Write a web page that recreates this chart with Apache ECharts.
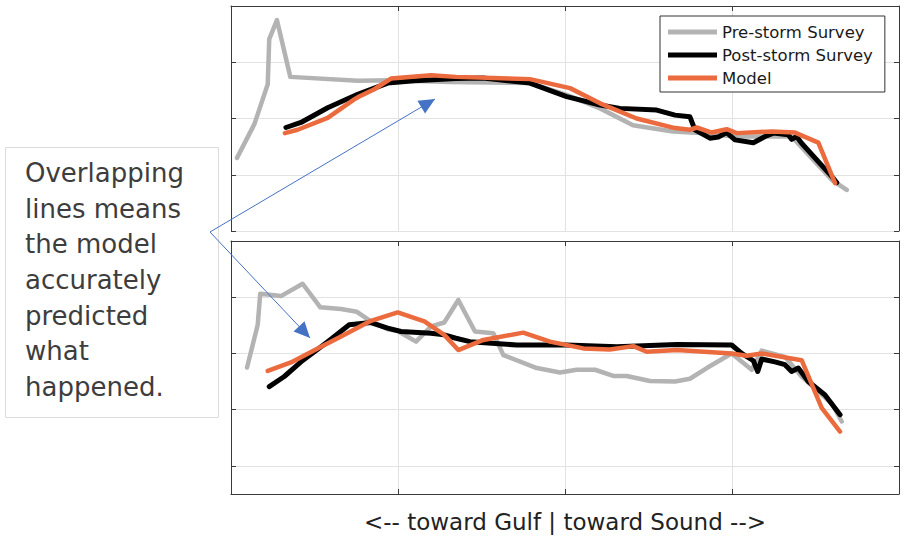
<!DOCTYPE html>
<html>
<head>
<meta charset="utf-8">
<script src="https://cdn.jsdelivr.net/npm/echarts@6/dist/echarts.min.js"></script>
<style>
  html, body { margin: 0; padding: 0; background: #ffffff; }
  #chart { width: 907px; height: 539px; }
</style>
</head>
<body>
<div id="chart"></div>
<script>
// ---------- DATA ----------
const seriesNames = ['Pre-storm Survey', 'Post-storm Survey', 'Model'];
const xAxisTitle = '<-- toward Gulf | toward Sound -->';
const noteText = ['Overlapping', 'lines means', 'the model', 'accurately', 'predicted', 'what', 'happened.'];

// Top panel
const topPreX  = [3.6, 14.0, 22.0, 22.9, 27.5, 35.5, 75.9, 96.2, 131.1, 179.0, 201.0, 221.0, 240.7, 264.7, 280.8, 301.8, 335.7, 359.7, 368.7];
const topPreY  = [1.30, 1.90, 2.61, 3.41, 3.75, 2.74, 2.67, 2.68, 2.65, 2.63, 2.42, 2.18, 1.88, 1.77, 1.74, 1.68, 1.68, 0.91, 0.73];
const topPostX = [32.9, 41.9, 57.9, 75.9, 93.8, 109.8, 134.7, 150.9, 179.0, 201.0, 221.0, 232.9, 254.9, 265.9, 274.8, 277.8, 286.8, 291.8, 296.8, 301.8, 312.8, 319.8, 324.7, 333.7, 335.7, 338.7, 341.7, 359.7, 362.7];
const topPostY = [1.84, 1.93, 2.19, 2.43, 2.63, 2.67, 2.71, 2.72, 2.63, 2.39, 2.24, 2.18, 2.15, 2.06, 2.03, 1.80, 1.65, 1.67, 1.75, 1.62, 1.57, 1.68, 1.74, 1.71, 1.63, 1.68, 1.56, 0.97, 0.86];
const topModX  = [32.3, 39.9, 57.9, 73.8, 76.8, 85.8, 95.8, 119.8, 134.7, 179.0, 203.0, 221.0, 242.9, 265.9, 274.8, 278.9, 287.8, 296.8, 302.8, 323.8, 337.7, 351.7, 361.7];
const topModY  = [1.74, 1.80, 2.01, 2.34, 2.39, 2.52, 2.71, 2.77, 2.74, 2.70, 2.54, 2.27, 2.00, 1.83, 1.80, 1.84, 1.75, 1.81, 1.74, 1.77, 1.75, 1.57, 0.85];

// Bottom panel
const botPreX  = [9.6, 16.0, 17.5, 29.9, 42.9, 53.5, 65.9, 75.4, 83.8, 93.8, 99.8, 110.8, 119.8, 127.7, 136.1, 146.1, 157.1, 163.1, 183.1, 197.0, 207.0, 218.0, 228.9, 236.9, 250.9, 265.9, 274.8, 284.9, 299.8, 311.8, 317.8, 331.7, 341.7, 359.7, 365.7];
const botPreY  = [1.75, 2.51, 3.06, 3.02, 3.24, 2.82, 2.79, 2.74, 2.57, 2.43, 2.40, 2.21, 2.48, 2.55, 2.95, 2.39, 2.36, 1.97, 1.74, 1.66, 1.71, 1.71, 1.60, 1.60, 1.51, 1.50, 1.55, 1.74, 2.00, 1.71, 2.05, 1.94, 1.59, 1.11, 0.79];
const botPostX = [22.9, 31.9, 41.9, 57.9, 70.8, 83.8, 93.8, 101.8, 119.8, 127.7, 134.7, 143.1, 171.1, 201.0, 231.0, 266.9, 299.8, 305.8, 312.8, 315.4, 317.8, 325.7, 331.7, 335.7, 339.7, 345.7, 355.7, 364.7];
const botPostY = [1.41, 1.59, 1.85, 2.21, 2.51, 2.55, 2.45, 2.39, 2.36, 2.33, 2.27, 2.21, 2.15, 2.15, 2.12, 2.16, 2.15, 2.00, 1.87, 1.68, 1.90, 1.85, 1.80, 1.68, 1.74, 1.50, 1.26, 0.91];
const botModX  = [22.0, 35.9, 51.9, 65.9, 83.8, 99.8, 115.8, 127.7, 136.1, 151.1, 175.0, 191.0, 210.9, 226.9, 240.9, 248.9, 266.9, 299.8, 308.8, 317.8, 341.7, 353.7, 364.7];
const botModY  = [1.69, 1.84, 2.09, 2.30, 2.58, 2.73, 2.57, 2.33, 2.06, 2.24, 2.37, 2.21, 2.09, 2.07, 2.13, 2.03, 2.06, 2.00, 1.96, 2.00, 1.88, 1.03, 0.61];

// ---------- BUILD ----------
const zip = (xs, ys) => xs.map((x, i) => [x, ys[i]]);
const colors = ['#b3b3b3', '#000000', '#ec6b3e'];
const widths = [4.5, 5, 4.5];

const AXIS_COLOR = '#3a3a3a';
const GRID_COLOR = '#e2e2e2';

function xAx(grid, pos, opts) {
  return Object.assign({
    type: 'value', gridIndex: grid, position: pos, min: 0, max: 400, interval: 100,
    axisLabel: { show: false },
    axisLine: { show: true, onZero: false, lineStyle: { color: AXIS_COLOR, width: 1 } },
    axisTick: { show: true, inside: true, length: 5, lineStyle: { color: AXIS_COLOR } },
    splitLine: { show: false }
  }, opts || {});
}
function yAx(grid, pos, opts) {
  return Object.assign({
    type: 'value', gridIndex: grid, position: pos,
    axisLabel: { show: false },
    axisLine: { show: true, onZero: false, lineStyle: { color: AXIS_COLOR, width: 1 } },
    axisTick: { show: true, inside: true, length: 5, lineStyle: { color: AXIS_COLOR } },
    splitLine: { show: false }
  }, opts || {});
}
const gridSplit = { show: true, lineStyle: { color: GRID_COLOR, width: 1 } };

function mkSeries(idx, data, xi, yi) {
  return {
    name: seriesNames[idx], type: 'line', data: data,
    xAxisIndex: xi, yAxisIndex: yi,
    showSymbol: false, symbol: 'none', smooth: false, animation: false,
    lineStyle: { color: colors[idx], width: widths[idx], cap: 'round', join: 'round' },
    itemStyle: { color: colors[idx] },
    z: 2 + idx
  };
}

const chart = echarts.init(document.getElementById('chart'), null, { renderer: 'svg' });

// annotation arrows (pixel annotations, not data)
function arrowHead(tip, from, len, half) {
  const dx = tip[0] - from[0], dy = tip[1] - from[1];
  const L = Math.hypot(dx, dy), ux = dx / L, uy = dy / L;
  const bx = tip[0] - len * ux, by = tip[1] - len * uy;
  return [tip, [bx + half * uy, by - half * ux], [bx - half * uy, by + half * ux]];
}
const vertex = [210, 232];
const tipTop = [435, 99];
const tipBot = [310, 338];
const arrowColor = '#4472c4';

const option = {
  backgroundColor: '#ffffff',
  animation: false,
  textStyle: { fontFamily: 'DejaVu Sans' },
  grid: [
    { left: 231, top: 6, width: 668, height: 225 },
    { left: 231, top: 241, width: 668, height: 253 }
  ],
  xAxis: [
    xAx(0, 'bottom', { axisLine: { show: false, onZero: false }, axisTick: { show: false }, splitLine: gridSplit }),
    xAx(0, 'top'),
    xAx(1, 'bottom', {
      splitLine: gridSplit,
      name: xAxisTitle, nameLocation: 'middle', nameGap: 16,
      nameTextStyle: { fontFamily: 'DejaVu Sans', fontSize: 23, color: '#222222' }
    }),
    xAx(1, 'top')
  ],
  yAxis: [
    yAx(0, 'left', { min: 0, max: 4, interval: 1, splitLine: gridSplit }),
    yAx(0, 'right', { min: 0, max: 4, interval: 1 }),
    yAx(1, 'left', { min: -0.5, max: 4, axisTick: { show: false } }),
    yAx(1, 'left', { min: 0, max: 4.5, interval: 1, inverse: true, axisLine: { show: false, onZero: false }, splitLine: gridSplit }),
    yAx(1, 'right', { min: 0, max: 4.5, interval: 1, inverse: true })
  ],
  legend: {
    data: seriesNames,
    orient: 'vertical',
    left: 660, top: 16,
    padding: [7, 12, 5, 8],
    itemGap: 5,
    itemWidth: 49, itemHeight: 5,
    icon: 'rect',
    backgroundColor: '#ffffff',
    borderColor: '#333333', borderWidth: 1, borderRadius: 0,
    textStyle: { fontFamily: 'DejaVu Sans', fontSize: 16.5, lineHeight: 18, color: '#1a1a1a' },
    z: 10
  },
  series: [
    mkSeries(0, zip(topPreX, topPreY), 0, 0),
    mkSeries(1, zip(topPostX, topPostY), 0, 0),
    mkSeries(2, zip(topModX, topModY), 0, 0),
    mkSeries(0, zip(botPreX, botPreY), 2, 2),
    mkSeries(1, zip(botPostX, botPostY), 2, 2),
    mkSeries(2, zip(botModX, botModY), 2, 2)
  ],
  graphic: [
    {
      type: 'rect', left: 5, top: 147, z: 20,
      shape: { width: 213, height: 270 },
      style: { fill: '#ffffff', stroke: '#dcdcdc', lineWidth: 1 }
    },
    {
      type: 'text', x: 25, y: 155, z: 21,
      style: {
        text: noteText.join('\n'),
        fontFamily: 'DejaVu Sans', fontSize: 26, lineHeight: 35.7,
        fill: '#3d3d3d', verticalAlign: 'top', align: 'left'
      }
    },
    {
      type: 'polyline', z: 22,
      shape: { points: [tipTop, vertex, tipBot] },
      style: { stroke: arrowColor, lineWidth: 1, fill: null }
    },
    {
      type: 'polygon', z: 22,
      shape: { points: arrowHead(tipTop, vertex, 16, 7.5) },
      style: { fill: arrowColor }
    },
    {
      type: 'polygon', z: 22,
      shape: { points: arrowHead(tipBot, vertex, 16, 7.5) },
      style: { fill: arrowColor }
    }
  ]
};
chart.setOption(option);
</script>
</body>
</html>
